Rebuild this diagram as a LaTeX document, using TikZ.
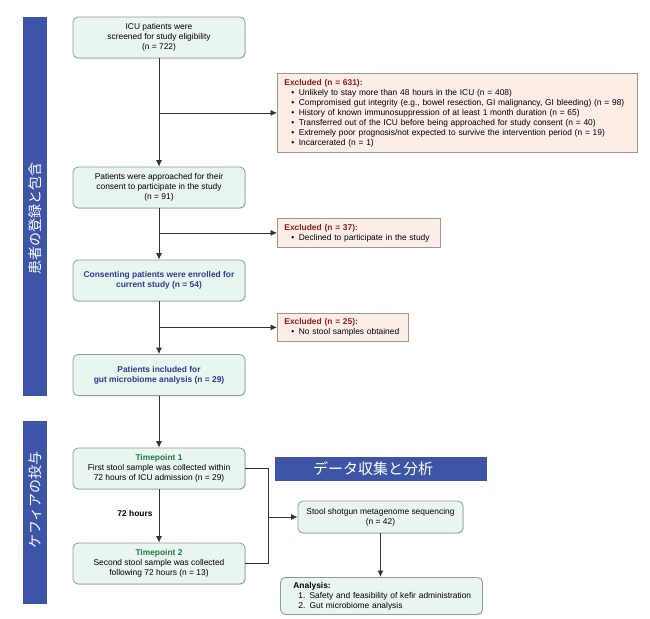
\documentclass[tikz,border=0pt]{standalone}
\usepackage{fontspec}
\setmainfont{Liberation Sans}
\newfontfamily\cjk{Noto Sans CJK JP}
\usetikzlibrary{arrows.meta,shadows}
\definecolor{boxfill}{HTML}{E9F5EF}
\definecolor{boxdraw}{HTML}{8E9C98}
\definecolor{exfill}{HTML}{FCEEE7}
\definecolor{exdraw}{HTML}{9C9696}
\definecolor{exred}{HTML}{8B1E1E}
\definecolor{navy}{HTML}{2E3B8F}
\definecolor{tpgreen}{HTML}{1F7A47}
\definecolor{sidebar}{HTML}{3C55A6}
\definecolor{linec}{HTML}{333333}
\begin{document}
\begin{tikzpicture}[x=1pt,y=-1pt,
  font=\fontsize{8.4}{10}\selectfont,
  shad/.style={drop shadow={opacity=0.25,shadow xshift=0.8pt,shadow yshift=-0.8pt}},
  mainbox/.style={draw=boxdraw, fill=boxfill, rounded corners=5pt, line width=0.8pt,
    align=center, inner sep=0pt, minimum width=172pt, minimum height=41pt, shad},
  exbox/.style={draw=exdraw, fill=exfill, line width=0.8pt, align=left,
    inner xsep=7pt, inner ysep=0pt, anchor=north west, shad},
  arr/.style={-{Latex[length=6.5pt,width=6pt]}, draw=linec, line width=0.8pt},
  ln/.style={draw=linec, line width=0.8pt},
  sidebox/.style={fill=sidebar, draw=none},
  sidetext/.style={text=white, font=\cjk\fontsize{14}{14}\selectfont, rotate=90, inner sep=0pt},
  bld/.style={font=\fontsize{8.4}{10}\selectfont\bfseries},
]
\useasboundingbox (0,0) rectangle (650,618);

% side bars
\path[sidebox] (23,17) rectangle (47,396);
\path[sidebox] (23,421) rectangle (47,604);
\node[sidetext] (s1) at (35,218) {患者の登録と包含};
\node[sidetext] (s2) at (35,500) {ケフィアの投与};

% banner
\path[sidebox] (275,457) rectangle (487,481);
\node[text=white, font=\cjk\fontsize{15}{15}\selectfont, inner sep=0pt] (ban) at (373,469) {データ収集と分析};

% main boxes
\node[mainbox] (b1) at (159,37.5) {ICU patients were\\screened for study eligibility\\(n = 722)};
\node[mainbox] (b2) at (159,187.5) {Patients were approached for their\\consent to participate in the study\\(n = 91)};
\node[mainbox, text=navy, bld] (b3) at (159,280.5) {Consenting patients were enrolled for\\current study (n = 54)};
\node[mainbox, text=navy, bld] (b4) at (159,375) {Patients included for\\gut microbiome analysis (n = 29)};
\node[mainbox] (b5) at (159,468.5) {\textcolor{tpgreen}{\bfseries Timepoint 1}\\First stool sample was collected within\\72 hours of ICU admission (n = 29)};
\node[mainbox] (b6) at (159,563.5) {\textcolor{tpgreen}{\bfseries Timepoint 2}\\Second stool sample was collected\\following 72 hours (n = 13)};
\node[mainbox, minimum width=165pt, minimum height=32pt] (b7) at (380.5,517) {Stool shotgun metagenome sequencing\\(n = 42)};
\node[mainbox, minimum width=202pt, minimum height=37pt, align=left, text width=186pt, inner xsep=8pt, anchor=north west] (b8) at (280,577) {\hspace*{5pt}{\bfseries Analysis:}\\\hspace*{10pt}1. Safety and feasibility of kefir administration\\\hspace*{10pt}2. Gut microbiome analysis};

% exclusion boxes
\newcommand{\bitem}{\\\hspace*{7pt}\textbullet\hspace{4.5pt}}
\node[exbox, text width=346pt, minimum height=79pt] (e1) at (277,73) {{\color{exred}\bfseries Excluded (n = 631):}%
\bitem Unlikely to stay more than 48 hours in the ICU (n = 408)%
\bitem Compromised gut integrity (e.g., bowel resection, GI malignancy, GI bleeding) (n = 98)%
\bitem History of known immunosuppression of at least 1 month duration (n = 65)%
\bitem Transferred out of the ICU before being approached for study consent (n = 40)%
\bitem Extremely poor prognosis/not expected to survive the intervention period (n = 19)%
\bitem Incarcerated (n = 1)};
\node[exbox, text width=149pt, minimum height=29pt] (e2) at (277,218) {{\color{exred}\bfseries Excluded (n = 37):}%
\bitem Declined to participate in the study};
\node[exbox, text width=117pt, minimum height=28pt] (e3) at (277,313) {{\color{exred}\bfseries Excluded (n = 25):}%
\bitem No stool samples obtained};

% connectors
\draw[arr] (b1.south) -- (b2.north);
\draw[arr] (b1.south |- e1.west) -- (e1.west);
\draw[arr] (b2.south) -- (b3.north);
\draw[arr] (b2.south |- e2.west) -- (e2.west);
\draw[arr] (b3.south) -- (b4.north);
\draw[arr] (b3.south |- e3.west) -- (e3.west);
\draw[arr] (b4.south) -- (b5.north);
\draw[arr] (b5.south) -- (b6.north);
\node[bld, inner sep=0pt] (h72) at (135,513) {72 hours};

\coordinate (j) at (268,517);
\draw[ln] (b5.east) -| (j);
\draw[ln] (b6.east) -| (j);
\draw[arr] (j) -- (b7.west);
\draw[arr] (b7.south) -- (b7.south |- b8.north);
\end{tikzpicture}
\end{document}
